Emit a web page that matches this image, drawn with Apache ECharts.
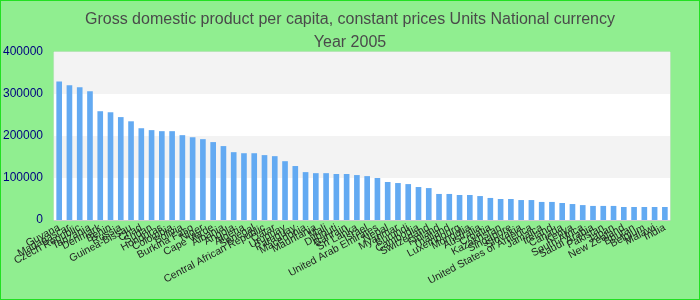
<!DOCTYPE html>
<html>
<head>
<meta charset="utf-8">
<script src="https://cdn.jsdelivr.net/npm/echarts@6/dist/echarts.min.js"></script>
<style>
html,body{margin:0;padding:0;background:#90ee90;}
#wrap{position:relative;width:700px;height:300px;}
#chart{width:700px;height:300px;}
#frame{position:absolute;left:0;top:0;width:700px;height:300px;box-sizing:border-box;border:1px solid #22e022;pointer-events:none;}
</style>
</head>
<body>
<div id="wrap"><div id="chart"></div><div id="frame"></div></div>
<script>
const titleLine1 = "Gross domestic product per capita, constant prices Units National currency";
const titleLine2 = "Year 2005";
const countries = [
  "Guyana","Madagascar","Czech Republic","Tanzania","Denmark","Benin","Russia","Guinea-Bissau","Chad","Sudan",
  "Honduras","Colombia","Bolivia","Burkina Faso","Niger","Cape Verde","Albania","Angola","Algeria","Senegal",
  "Central African Republic","Qatar","Uruguay","Paraguay","Macedonia","Mauritania","Mali","Djibouti","Bahrain","Sri Lanka",
  "Israel","United Arab Emirates","Nepal","Myanmar","Burundi","Cambodia","Switzerland","Finland","Thailand","Luxembourg",
  "Mongolia","Australia","Croatia","Kazakhstan","Singapore","Slovakia","United States of America","Jamaica","Ireland","Canada",
  "Kenya","South Africa","Saudi Arabia","Pakistan","Japan","New Zealand","Bhutan","Belgium","Malawi","India"
];
const values = [
  330000,321000,316000,306500,259000,256500,245000,235000,218500,214000,
  211500,211500,202000,197000,192500,185500,176000,161500,159000,159000,
  154500,152000,140000,128500,114000,111500,111500,109500,109500,107000,
  104500,100000,90500,88000,85500,78500,76000,62000,62000,59500,
  59500,57000,52500,50000,50000,47500,47500,43000,43000,40500,
  38000,35500,33500,33500,33500,31000,31000,31000,31000,31000
];
const yTicks = {min: 0, max: 400000, interval: 100000};

const chart = echarts.init(document.getElementById('chart'), null, {renderer: 'canvas'});
chart.setOption({
  backgroundColor: '#90ee90',
  animation: false,
  title: {
    text: titleLine1 + "\n" + titleLine2,
    left: 'center',
    top: 3,
    textStyle: {fontFamily: 'Liberation Sans, Arial, sans-serif', fontSize: 16, fontWeight: 'normal', color: '#4a4a4a', lineHeight: 23}
  },
  grid: {left: 50, right: 30, top: 52, bottom: 80, show: true, borderColor: '#dddddd', borderWidth: 1, containLabel: false},
  xAxis: {
    type: 'category',
    data: countries,
    axisLine: {show: true, lineStyle: {color: '#cccccc'}},
    axisTick: {show: false},
    axisLabel: {interval: 0, rotate: 28, fontSize: 10.5, color: '#222', fontFamily: 'Liberation Sans, Arial, sans-serif', margin: 7}
  },
  yAxis: {
    type: 'value',
    min: yTicks.min, max: yTicks.max, interval: yTicks.interval,
    axisLine: {show: false},
    axisTick: {show: false},
    splitLine: {show: false},
    splitArea: {show: true, areaStyle: {color: ['#ffffff', '#f3f3f3']}},
    axisLabel: {fontSize: 12, color: '#000080', fontFamily: 'Liberation Sans, Arial, sans-serif', margin: 11,
      formatter: function (v) { return String(v); }}
  },
  series: [{
    type: 'bar',
    data: values,
    barWidth: '55%',
    itemStyle: {color: '#63aaf2'}
  }]
});
</script>
</body>
</html>
